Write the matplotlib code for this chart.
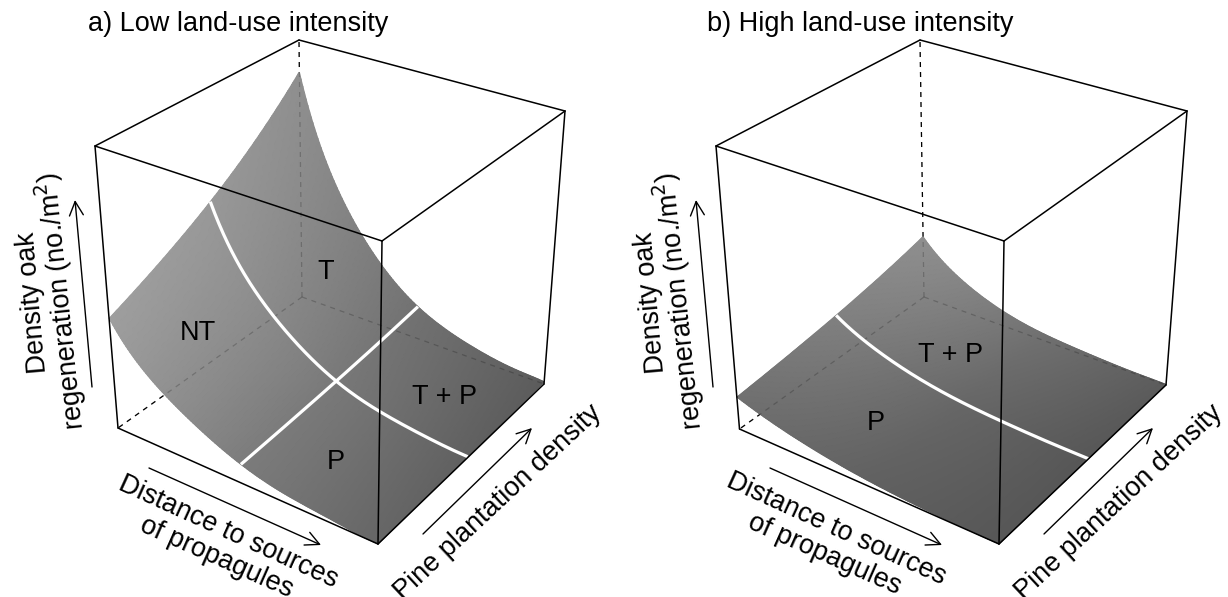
#Two response surfaces of oak regeneration drawn inside open boxes
import numpy as np
import matplotlib
matplotlib.use('Agg')
import matplotlib.pyplot as plt

plt.rcParams['font.family'] = ['Liberation Sans', 'DejaVu Sans']

# positions along the two ground axes where heights were read
dist_pts = [0, .1, .2, .3, .4, .5, .6, .7, .8, .9, 1]
pine_pts = [0, .1, .2, .3, .4, .5, .6, .7, .8, .9, 1]

# height of the surface along its near and far edges
near_a = [.39, .265, .19, .135, .09, .056, .036, .022, .012, .005, 0]
far_a = [.875, .56, .38, .25, .17, .105, .07, .042, .025, .014, .008]
near_b = [.113, .083, .06, .042, .028, .018, .011, .006, .003, .001, 0]
far_b = [.235, .15, .1, .06, .04, .025, .015, .01, .006, .003, .002]
# how the surface goes from near edge to far edge
blend = [0, .05, .12, .19, .27, .36, .44, .56, .69, .84, 1]

# grey level, rows pine 0/.5/1, columns distance 0/.5/1
grey_a = [[.62, .48, .40], [.60, .47, .38], [.56, .44, .36]]
grey_b = [[.44, .38, .34], [.50, .40, .34], [.56, .44, .36]]

# box corners in picture pixels: left, front, right, back
ground_a = [(118, 428), (378, 544), (544, 384), (302, 297)]
roof_a = [(95, 146), (382, 241), (565, 111), (299, 40)]
ground_b = [(739.5, 429), (999, 544), (1166, 385), (924, 297)]
roof_b = [(716, 146), (1004, 241), (1187, 111), (920, 40)]

# white lines: pine level across the surface, and distance level (panel a only)
pine_line_a, dist_line_a = .54, .475
pine_line_b = .535

titles = ['a) Low land-use intensity', 'b) High land-use intensity']
title_x = [88, 707]
zones_a = [('NT', 198, 333), ('T', 326, 272), ('T + P', 444, 397), ('P', 336, 462)]
zones_b = [('T + P', 951, 355), ('P', 876, 423)]


def project(box, u, v, z):
    g = np.array(box[0], float)
    r = np.array(box[1], float)
    out = []
    for c in (g, r):
        w = [(1 - u) * (1 - v), u * (1 - v), u * v, (1 - u) * v]
        out.append(sum(w[i][..., None] * c[i] for i in range(4)))
    return out[0] + z[..., None] * (out[1] - out[0])


def height(near, far, u, v):
    n = np.clip(np.polyval(np.polyfit(dist_pts, near, 6), u), 0, None)
    f = np.clip(np.polyval(np.polyfit(dist_pts, far, 7), u), 0, None)
    w = np.clip(np.polyval(np.polyfit(pine_pts, blend, 4), v), 0, 1)
    return n * (1 - w) + f * w


def grey(table, u, v):
    table = np.array(table)
    i = np.clip(v * 2, 0, 2)
    j = np.clip(u * 2, 0, 2)
    i0 = np.minimum(i.astype(int), 1)
    j0 = np.minimum(j.astype(int), 1)
    di, dj = i - i0, j - j0
    return (table[i0, j0] * (1 - di) * (1 - dj) + table[i0, j0 + 1] * (1 - di) * dj
            + table[i0 + 1, j0] * di * (1 - dj) + table[i0 + 1, j0 + 1] * di * dj)


def edge(box, a, b):
    # a and b are (u, v, z) corners of the box
    t = np.array([0., 1.])
    pts = project(box, a[0] + (b[0] - a[0]) * t, a[1] + (b[1] - a[1]) * t, a[2] + (b[2] - a[2]) * t)
    return pts[:, 0], pts[:, 1]


def draw_panel(ax, box, near, far, tone, pine_line, dist_line=None):
    L, F, R, B = (0, 0), (1, 0), (1, 1), (0, 1)
    hidden = [(B + (0,), B + (1,)), (B + (0,), L + (0,)), (B + (0,), R + (0,))]
    for a, b in hidden:
        x, y = edge(box, a, b)
        ax.plot(x, y, color='k', lw=.9, dashes=(4, 4), zorder=1)

    u, v = np.meshgrid(np.linspace(0, 1, 160), np.linspace(0, 1, 160))
    z = height(near, far, u, v)
    p = project(box, u, v, z)
    ax.pcolormesh(p[..., 0], p[..., 1], grey(tone, u, v), shading='gouraud',
                  cmap='gray', vmin=0, vmax=1, zorder=2)

    for a, b in hidden:
        x, y = edge(box, a, b)
        ax.plot(x, y, color='k', lw=.9, dashes=(4, 4), alpha=.2, zorder=3)

    t = np.linspace(0, 1, 200)
    c = np.full_like(t, pine_line)
    p = project(box, t, c, height(near, far, t, c))
    ax.plot(p[:, 0], p[:, 1], color='white', lw=2.3, zorder=4, solid_capstyle='butt')
    if dist_line is not None:
        c = np.full_like(t, dist_line)
        p = project(box, c, t, height(near, far, c, t))
        ax.plot(p[:, 0], p[:, 1], color='white', lw=2.3, zorder=4, solid_capstyle='butt')

    solid = [(L + (0,), F + (0,)), (F + (0,), R + (0,)),
             (L + (0,), L + (1,)), (F + (0,), F + (1,)), (R + (0,), R + (1,)),
             (L + (1,), F + (1,)), (F + (1,), R + (1,)), (R + (1,), B + (1,)), (B + (1,), L + (1,))]
    for a, b in solid:
        x, y = edge(box, a, b)
        ax.plot(x, y, color='k', lw=1.1, zorder=5, solid_capstyle='round')


def arrow(ax, start, end):
    ax.annotate('', xy=end, xytext=start, zorder=6,
                arrowprops=dict(arrowstyle='->,head_length=1.0,head_width=0.5', lw=1.0, color='k',
                                shrinkA=0, shrinkB=0))


def axis_labels(ax, dx, dx_left, dx_dist, dy_dist):
    kw = dict(ha='center', va='center', rotation_mode='anchor', fontsize=19.5, zorder=7)
    ax.text(33 + dx_left, 303, 'Density oak', rotation=95, **kw)
    ax.text(61 + dx_left, 301, 'regeneration (no./m$^{2}$)', rotation=96, **kw)
    ax.text(228 + dx_dist, 532 + dy_dist, 'Distance to sources', rotation=-24.5, **kw)
    ax.text(217 + dx_dist, 558 + dy_dist, 'of propagules', rotation=-24, **kw)
    ax.text(498 + dx, 502, 'Pine plantation density', rotation=43, **kw)
    arrow(ax, (92 + dx, 387), (75 + dx, 200))
    arrow(ax, (149 + dx, 468), (321 + dx, 545))
    arrow(ax, (423 + dx, 534), (532 + dx, 428))


fig = plt.figure(figsize=(12.28, 5.97), dpi=100)
ax = fig.add_axes([0, 0, 1, 1])
ax.set_xlim(0, 1228)
ax.set_ylim(597, 0)
ax.axis('off')

draw_panel(ax, (ground_a, roof_a), near_a, far_a, grey_a, pine_line_a, dist_line_a)
draw_panel(ax, (ground_b, roof_b), near_b, far_b, grey_b, pine_line_b)
axis_labels(ax, 0, 0, 0, 0)
axis_labels(ax, 621, 618, 608, -3)

for t, x in zip(titles, title_x):
    ax.text(x, 24, t, fontsize=19.5, ha='left', va='center')
for name, x, y in zones_a + zones_b:
    ax.text(x, y, name, fontsize=19.5, ha='center', va='center', zorder=7)

fig.savefig('out.png', dpi=100)
